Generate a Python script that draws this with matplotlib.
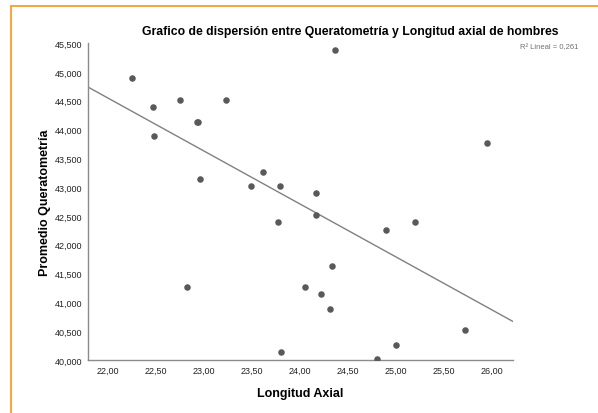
import numpy as np
import matplotlib
matplotlib.use("Agg")
import matplotlib.pyplot as plt
from matplotlib.ticker import FuncFormatter

plt.rcParams['font.family'] = ['Liberation Sans', 'DejaVu Sans']

# longitud axial (mm) y promedio de queratometria
longitud = [22.25, 22.47, 22.48, 22.75, 22.925, 22.935, 23.23, 22.96, 23.49, 23.61,
            23.79, 24.36, 25.95, 24.17, 23.77, 22.82, 23.80, 24.17, 24.90, 25.20,
            24.33, 24.05, 24.22, 24.31, 25.72, 25.00, 24.80]
queratometria = [44.890, 44.389, 43.893, 44.516, 44.135, 44.130, 44.516, 43.137, 43.016, 43.265,
                 43.016, 45.386, 43.766, 42.889, 42.388, 41.263, 40.138, 42.514, 42.261, 42.388,
                 41.638, 41.263, 41.137, 40.888, 40.514, 40.265, 40.017]
# recta de ajuste lineal (valor en x=22 y x=26)
ajuste_x = [22.0, 26.0]
ajuste_y = [44.543, 40.870]
x_ticks = [22.0, 22.5, 23.0, 23.5, 24.0, 24.5, 25.0, 25.5, 26.0]
y_ticks = [40.0, 40.5, 41.0, 41.5, 42.0, 42.5, 43.0, 43.5, 44.0, 44.5, 45.0, 45.5]
r2_text = "R² Lineal = 0,261"

fig = plt.figure(figsize=(5.98, 4.14), dpi=100)
ax = fig.add_axes([88/598, 1-361/414, (513-88)/598, (361-44)/414])

xlim = (21.79, 26.22)
ax.scatter(longitud, queratometria, s=22, color='#595959', zorder=3, linewidths=0)

slope = (ajuste_y[1] - ajuste_y[0]) / (ajuste_x[1] - ajuste_x[0])
inter = ajuste_y[0] - slope * ajuste_x[0]
xs = np.array(xlim)
ax.plot(xs, inter + slope * xs, color='#808080', lw=1)

ax.set_xlim(*xlim)
ax.set_ylim(40.0, 45.5)
ax.set_xticks(x_ticks)
ax.set_yticks(y_ticks)
ax.xaxis.set_major_formatter(FuncFormatter(lambda v, p: f"{v:.2f}".replace('.', ',')))
ax.yaxis.set_major_formatter(FuncFormatter(lambda v, p: f"{v:.3f}".replace('.', ',')))
ax.tick_params(length=0, labelsize=6.5, colors='#222222', pad=4)
for s in ['top', 'right']:
    ax.spines[s].set_visible(False)
for s in ['left', 'bottom']:
    ax.spines[s].set_color('#8c8c8c')
    ax.spines[s].set_linewidth(1)

ax.set_xlabel("Longitud Axial", fontsize=9, fontweight='bold', labelpad=9)
ax.set_ylabel("Promedio Queratometría", fontsize=9, fontweight='bold', labelpad=3)

fig.text(350/598, 1-32/414, "Grafico de dispersión entre Queratometría y Longitud axial de hombres",
         ha='center', va='center', fontsize=8.8, fontweight='bold')
fig.text(578/598, 1-48/414, r2_text, ha='right', va='center', fontsize=5.5, color='#707070')

# borde naranja (solo se ve arriba e izquierda)
fig.add_artist(plt.Line2D([11/598, 1], [1-7/414, 1-7/414], color='#f5a742', lw=1.5, transform=fig.transFigure))
fig.add_artist(plt.Line2D([11/598, 11/598], [0, 1-7/414], color='#f5a742', lw=1.5, transform=fig.transFigure))

fig.savefig("out.png", dpi=100)
